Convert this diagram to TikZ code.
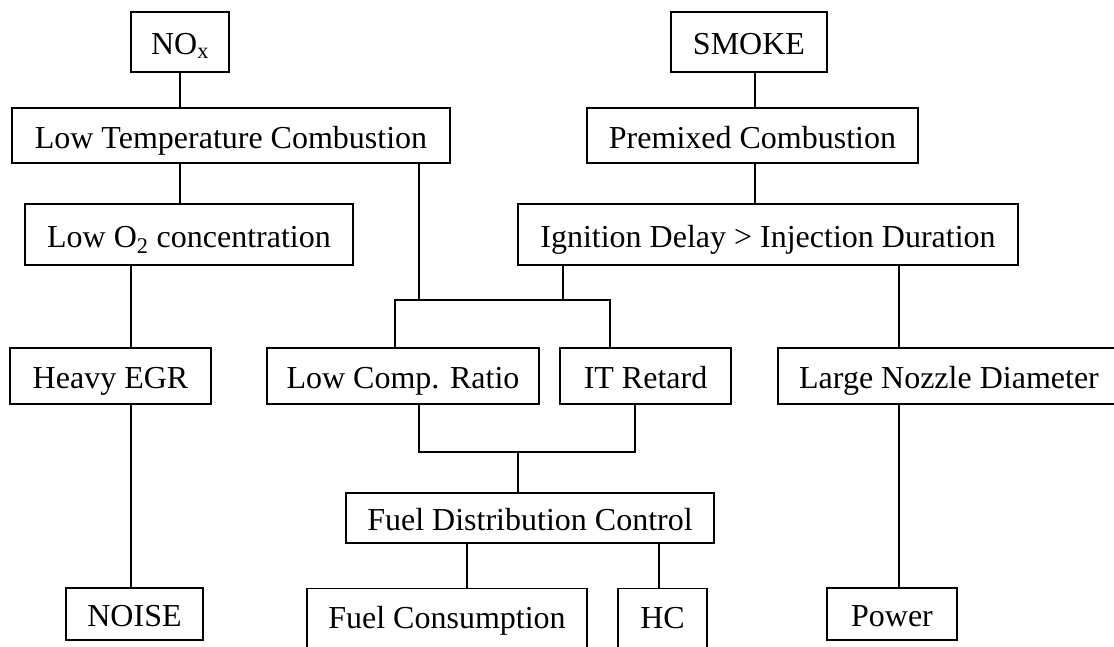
\documentclass[tikz,border=0pt]{standalone}
\usepackage{fontspec}
\setmainfont{Liberation Serif}
\begin{document}
\begin{tikzpicture}[x=1pt,y=-1pt,
  bx/.style={draw, line width=1.4pt, inner sep=0pt, text height=25pt, text depth=0pt,
    font=\fontsize{32}{36}\selectfont},
  cutbx/.style={bx, anchor=north, text height=40pt, text depth=40pt},
  ln/.style={line width=1.4pt}]
\path[clip] (0,0) rectangle (1114,646);
\node[bx, minimum width=98pt, minimum height=60pt] (nox) at (180,42) {NO\textsubscript{x}};
\node[bx, minimum width=156pt, minimum height=60pt] (smoke) at (749,42) {SMOKE};
\node[bx, minimum width=438pt, minimum height=55pt] (ltc) at (231,135.5) {Low Temperature Combustion};
\node[bx, minimum width=331pt, minimum height=55pt] (pmc) at (752.5,135.5) {Premixed Combustion};
\node[bx, minimum width=328pt, minimum height=61pt] (o2) at (189,234.5) {Low O\textsubscript{2} concentration};
\node[bx, minimum width=500pt, minimum height=61pt] (ign) at (768,234.5) {Ignition Delay > Injection Duration};
\node[bx, minimum width=201pt, minimum height=56pt] (egr) at (110.5,376) {Heavy EGR};
\node[bx, minimum width=272pt, minimum height=56pt] (lcr) at (403,376) {Low Comp. Ratio};
\node[bx, minimum width=171pt, minimum height=56pt] (itr) at (645.5,376) {IT Retard};
\node[bx, minimum width=342pt, minimum height=56pt] (lnd) at (949,376) {Large Nozzle Diameter};
\node[bx, minimum width=368pt, minimum height=50pt] (fdc) at (530,518) {Fuel Distribution Control};
\node[bx, minimum width=137pt, minimum height=52pt] (noise) at (134.5,614) {NOISE};
\node[cutbx, minimum width=280pt] (fc) at (447,588) {Fuel Consumption};
\node[cutbx, minimum width=89pt] (hc) at (662.5,588) {HC};
\node[bx, minimum width=130pt, minimum height=52pt] (pow) at (892,614) {Power};
\coordinate (cl) at (131,0);
\coordinate (jl) at (419,300);
\coordinate (jr) at (563,300);
\coordinate (c395) at (395,300);
\coordinate (c610) at (610,300);
\coordinate (c419b) at (419,452);
\coordinate (c635b) at (635,452);
\coordinate (jb) at (518,452);
\coordinate (c467) at (467,0);
\coordinate (c659) at (659,0);
\coordinate (c899) at (899,0);
\coordinate (c755) at (755,0);
\draw[ln] (nox.south) -- (nox.south |- ltc.north);
\draw[ln] (nox.south |- ltc.south) -- (nox.south |- o2.north);
\draw[ln] (o2.south -| cl) -- (egr.north -| cl);
\draw[ln] (egr.south -| cl) -- (noise.north -| cl);
\draw[ln] (ltc.south -| jl) -- (jl);
\draw[ln] (ign.south -| jr) -- (jr);
\draw[ln] (lcr.north -| c395) -- (c395) -- (c610) -- (itr.north -| c610);
\draw[ln] (lcr.south -| c419b) -- (c419b) -- (c635b) -- (itr.south -| c635b);
\draw[ln] (jb) -- (fdc.north -| jb);
\draw[ln] (fdc.south -| c467) -- (fc.north -| c467);
\draw[ln] (fdc.south -| c659) -- (hc.north -| c659);
\draw[ln] (ign.south -| c899) -- (lnd.north -| c899);
\draw[ln] (lnd.south -| c899) -- (pow.north -| c899);
\draw[ln] (smoke.south -| c755) -- (pmc.north -| c755);
\draw[ln] (pmc.south -| c755) -- (ign.north -| c755);
\end{tikzpicture}
\end{document}
